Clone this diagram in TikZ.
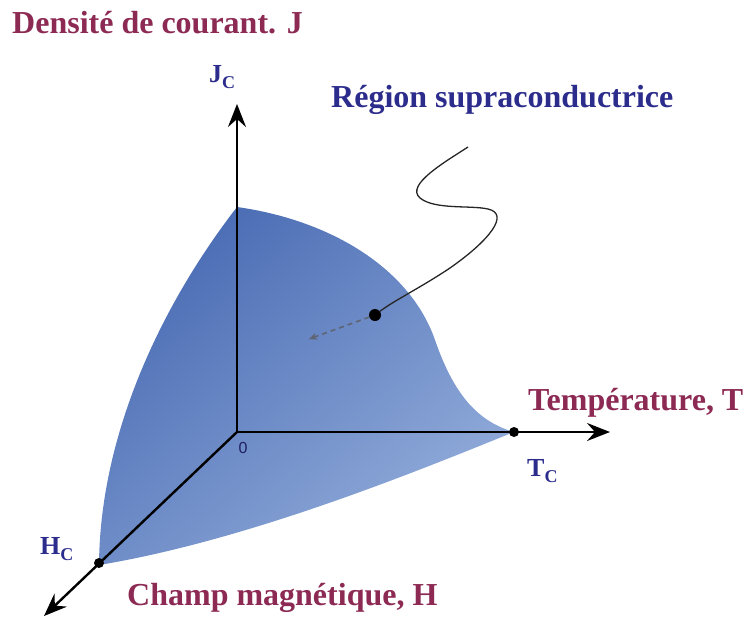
\documentclass[tikz,border=0pt]{standalone}
\usepackage{fontspec}
\setmainfont{Liberation Serif}
\newfontfamily\zerofont{Liberation Sans}
\usetikzlibrary{arrows.meta}
\definecolor{maroonT}{RGB}{140,42,84}
\definecolor{blueT}{RGB}{44,44,140}
\definecolor{surfA}{RGB}{74,108,180}
\definecolor{surfB}{RGB}{146,172,218}
\definecolor{dashG}{RGB}{95,100,115}
\newcommand{\lowC}{\raisebox{-6pt}{\fontsize{18}{18}\selectfont C}}
\begin{document}
\begin{tikzpicture}[x=1pt,y=-1pt,
  axis/.style={line width=2.4pt,-{Stealth[length=23pt,width=18pt,inset=8pt]}},
  dot/.style={circle,fill=black,inner sep=0pt,minimum size=#1},
  dot/.default=10pt,
  bigtitle/.style={font=\fontsize{32}{34}\selectfont\bfseries,inner sep=0pt},
  critlabel/.style={font=\fontsize{26}{28}\selectfont\bfseries,text=blueT,inner sep=0pt,anchor=base west},
  wave/.style={line width=1.3pt,black!85},
  dasharrow/.style={line width=1.6pt,dashG,dash pattern=on 5pt off 4pt,-{Stealth[length=8pt,width=7pt]}}]
\useasboundingbox (0,0) rectangle (751,619);
% key points
\coordinate (O) at (237,432);
\coordinate (JcP) at (237,207);
\coordinate (Jend) at (237,104);
\coordinate (Tend) at (610,432);
\coordinate (Hend) at (44,616);
\coordinate (WS) at (468,147);
\coordinate (DE) at (309,339);
% superconducting region
\shade[top color=surfA,bottom color=surfB,shading angle=40]
  (JcP) .. controls (330,220) and (410,268) .. (435,340)
  .. controls (455,398) and (480,422) .. (514,432)
  .. controls (420,470) and (250,540) .. (99,565)
  .. controls (100,430) and (165,300) .. (JcP) -- cycle;
% axes
\draw[axis] (O) -- (Jend);
\draw[axis] (O) -- (Tend);
\draw[axis] (O) -- (Hend);
% critical points
\node[dot=10pt] (Tc) at (514,432) {};
\node[dot=10pt] (Hc) at (99,563) {};
\node[dot=12pt] (R) at (375,315) {};
% pointer from title to region
\draw[wave] (WS) .. controls (445,162) and (405,185) .. (420,198)
  .. controls (435,210) and (470,205) .. (488,209)
  .. controls (510,214) and (490,240) .. (450,268)
  .. controls (420,288) and (395,300) .. (R);
\draw[dasharrow] (R) -- (DE);
% labels
\node[bigtitle,text=maroonT,anchor=base west] (tJ) at (12,33) {Densité de courant. J};
\node[bigtitle,text=blueT,anchor=base west] (tR) at (331,107) {Région supraconductrice};
\node[bigtitle,text=maroonT,anchor=base west] (tT) at (528,410) {Température, T};
\node[bigtitle,text=maroonT,anchor=base west] (tH) at (127,605) {Champ magnétique, H};
\node[critlabel] (lJ) at (209,82) {J\lowC};
\node[critlabel] (lT) at (527,476) {T\lowC};
\node[critlabel] (lH) at (40,554) {H\lowC};
\node[font=\zerofont\fontsize{16}{16}\selectfont,text=blueT!70!black,inner sep=0pt] (l0) at (243,448) {0};
\end{tikzpicture}
\end{document}
